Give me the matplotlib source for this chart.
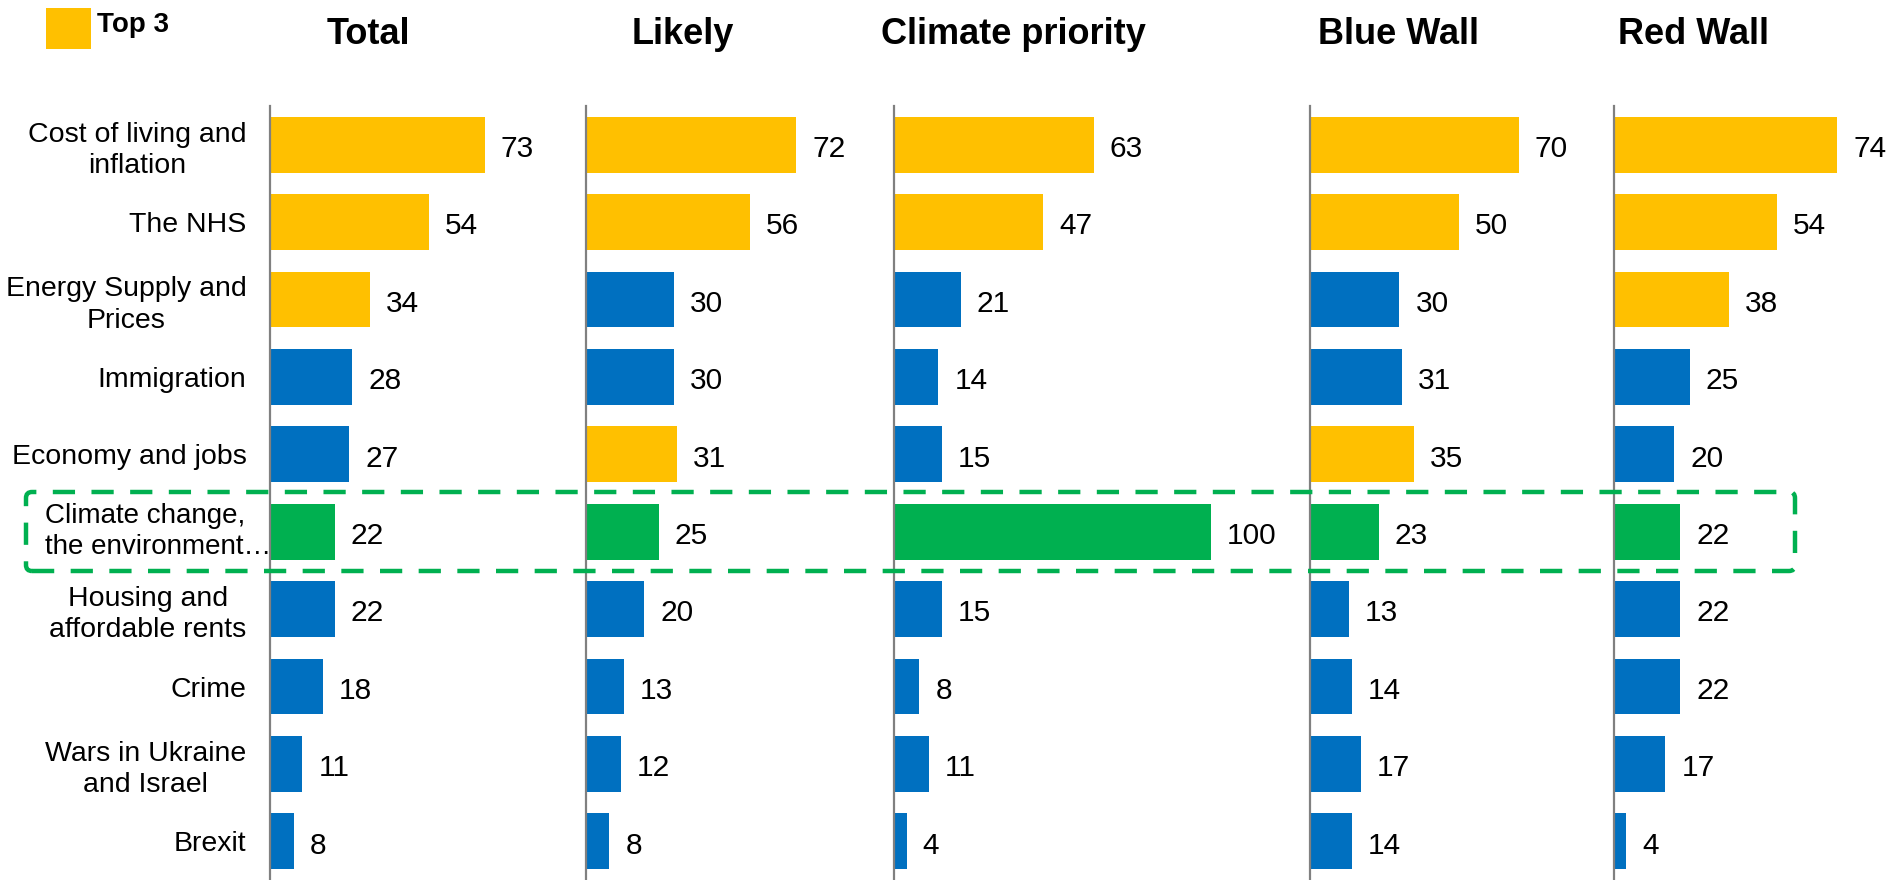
import matplotlib
matplotlib.use("Agg")
import matplotlib.pyplot as plt
from matplotlib.patches import Rectangle, FancyBboxPatch
from matplotlib.transforms import Affine2D, blended_transform_factory
import numpy as np

plt.rcParams['font.family'] = ['Liberation Sans', 'DejaVu Sans']

categories = ["Cost of living and\ninflation", "The NHS", "Energy Supply and\nPrices",
              "Immigration", "Economy and jobs", "Climate change,\nthe environment…",
              "Housing and\naffordable rents", "Crime", "Wars in Ukraine\nand Israel", "Brexit"]
climate_idx = 5

panels = ["Total", "Likely", "Climate priority", "Blue Wall", "Red Wall"]
total = [73, 54, 34, 28, 27, 22, 22, 18, 11, 8]
likely = [72, 56, 30, 30, 31, 25, 20, 13, 12, 8]
climate_priority = [63, 47, 21, 14, 15, 100, 15, 8, 11, 4]
blue_wall = [70, 50, 30, 31, 35, 23, 13, 14, 17, 14]
red_wall = [74, 54, 38, 25, 20, 22, 22, 22, 17, 4]
series = [total, likely, climate_priority, blue_wall, red_wall]

ORANGE = "#FFC000"
BLUE = "#0070C0"
GREEN = "#00B050"

W, H = 1891, 880
fig = plt.figure(figsize=(W / 100, H / 100), dpi=100)

# layout in pixels
ax_x0 = [270, 586, 894, 1310, 1614]
px_per_unit = [2.94, 2.92, 3.17, 2.98, 3.02]
title_cx = [368, 683, 1013, 1399, 1694]
XMAX = 110
top_px, bot_px = 106, 880

for i, (name, vals) in enumerate(zip(panels, series)):
    wpx = XMAX * px_per_unit[i]
    ax = fig.add_axes([ax_x0[i] / W, (H - bot_px) / H, wpx / W, (bot_px - top_px) / H])
    vals = np.array(vals)
    order = np.argsort(-vals, kind="stable")[:3]
    colors = []
    for j in range(len(vals)):
        if j == climate_idx:
            colors.append(GREEN)
        elif j in order:
            colors.append(ORANGE)
        else:
            colors.append(BLUE)
    y = np.arange(len(vals))
    ax.barh(y, vals, height=0.72, color=colors)
    for yy, v in zip(y, vals):
        ax.annotate(str(v), (v, yy), xytext=(11.5, -1), textcoords="offset points",
                    va="center_baseline", ha="left", fontsize=21.5, color="black")
    ax.set_xlim(0, XMAX)
    ax.set_ylim(len(vals) - 0.5, -0.5)
    for s in ["top", "right", "bottom"]:
        ax.spines[s].set_visible(False)
    ax.spines["left"].set_color("#808080")
    ax.spines["left"].set_linewidth(1.6)
    ax.set_xticks([])
    ax.patch.set_alpha(0)
    if i == 0:
        ax.set_yticks(y)
        ticklabels = [c if k != climate_idx else "" for k, c in enumerate(categories)]
        ax.set_yticklabels(ticklabels, fontsize=20.5)
        ax.tick_params(axis="y", length=0, pad=17)
        for lab in ax.get_yticklabels():
            lab.set_multialignment("center")
            lab.set_linespacing(1.25)
        # climate label is left aligned inside the highlight box
        tr = blended_transform_factory(fig.transFigure, ax.transData)
        ax.text(45 / W, climate_idx, categories[climate_idx], transform=tr,
                ha="left", va="center", fontsize=20, linespacing=1.25,
                multialignment="left", zorder=12)
    else:
        ax.set_yticks([])
    fig.text(title_cx[i] / W, 1 - 31 / H, name, ha="center", va="center_baseline",
             fontsize=26, fontweight="bold")

# legend
pix = Affine2D().scale(1 / W, 1 / H) + fig.transFigure
fig.patches.append(Rectangle((46, H - 49), 45, 41, transform=pix, facecolor=ORANGE,
                             edgecolor="none"))
fig.text(97 / W, 1 - 22 / H, "Top 3", ha="left", va="center_baseline", fontsize=20,
         fontweight="bold")

# dashed highlight box
box = FancyBboxPatch((26, H - 571), 1769, 79, boxstyle="round,pad=0,rounding_size=6",
                     transform=pix, facecolor="none", edgecolor=GREEN, linewidth=3.2,
                     linestyle=(0, (5.0, 3.7)), zorder=10)
fig.patches.append(box)

fig.savefig("out.png", dpi=100)
